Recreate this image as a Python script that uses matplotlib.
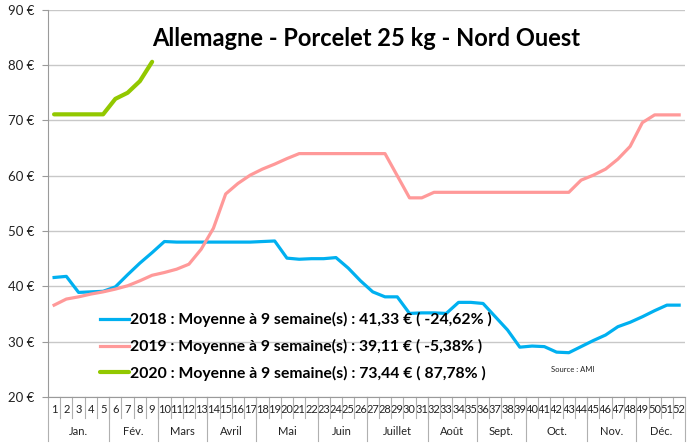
import numpy as np
import matplotlib.pyplot as plt
import matplotlib.transforms as mtransforms

plt.rcParams['font.family'] = ['Lato', 'DejaVu Sans']

weeks = list(range(1, 53))

# prix hebdo (EUR / porcelet 25 kg)
prix_2018 = [41.6, 41.8, 38.9, 39.0, 39.1, 39.9, 42.1, 44.2, 46.1, 48.1,
             48.0, 48.0, 48.0, 48.0, 48.0, 48.0, 48.0, 48.1, 48.2, 45.1,
             44.9, 45.0, 45.0, 45.2, 43.3, 41.0, 39.0, 38.1, 38.1, 35.1,
             35.2, 35.2, 35.1, 37.1, 37.1, 36.9, 34.5, 32.1, 29.0, 29.2,
             29.1, 28.1, 28.0, 29.1, 30.2, 31.2, 32.7, 33.5, 34.5, 35.6,
             36.6, 36.6]
prix_2019 = [36.6, 37.7, 38.1, 38.6, 39.0, 39.5, 40.1, 41.0, 42.0, 42.5,
             43.1, 44.0, 46.7, 50.5, 56.7, 58.6, 60.1, 61.2, 62.1, 63.1,
             64.0, 64.0, 64.0, 64.0, 64.0, 64.0, 64.0, 64.0, 60.0, 56.0,
             56.0, 57.0, 57.0, 57.0, 57.0, 57.0, 57.0, 57.0, 57.0, 57.0,
             57.0, 57.0, 57.0, 59.2, 60.1, 61.2, 63.0, 65.3, 69.6, 71.0,
             71.0, 71.0]
prix_2020 = [71.1, 71.1, 71.1, 71.1, 71.1, 73.9, 75.0, 77.1, 80.6]

labels = ['2018 : Moyenne à 9 semaine(s) : 41,33 € ( -24,62% )',
          '2019 : Moyenne à 9 semaine(s) : 39,11 € ( -5,38% )',
          '2020 : Moyenne à 9 semaine(s) : 73,44 € ( 87,78% )']

mois = ['Jan.', 'Fév.', 'Mars', 'Avril', 'Mai', 'Juin', 'Juillet', 'Août',
        'Sept.', 'Oct.', 'Nov.', 'Déc.']
mois_debut = [1, 6, 10, 14, 18, 23, 27, 32, 36, 40, 45, 49]

fig = plt.figure(figsize=(6.95, 4.46), dpi=100)
ax = fig.add_axes([0.069, 0.11, 0.917, 0.868])

ax.plot(weeks, prix_2018, color='#00b0f0', lw=2.3, label=labels[0])
ax.plot(weeks[:len(prix_2019)], prix_2019, color='#ff9999', lw=2.3, label=labels[1])
ax.plot(weeks[:len(prix_2020)], prix_2020, color='#92c800', lw=3.0, label=labels[2],
        solid_capstyle='round')

ax.set_xlim(0.5, 52.5)
ax.set_ylim(20, 90)
ax.set_yticks(range(20, 91, 10))
ax.set_yticklabels(['%d €' % v for v in range(20, 91, 10)], fontsize=9.5, color='#222222')
ax.yaxis.grid(True, color='#c8c8c8', lw=1)
ax.set_axisbelow(True)
for s in ['top', 'right']:
    ax.spines[s].set_visible(False)
ax.spines['left'].set_color('#9a9a9a')
ax.spines['bottom'].set_color('#9a9a9a')
ax.tick_params(axis='y', length=4, color='#9a9a9a', pad=6)

# axe x : numeros de semaine + mois, facon tableau Excel
ax.set_xticks(weeks)
ax.set_xticklabels([str(w) for w in weeks], fontsize=8, color='#222222')
ax.tick_params(axis='x', length=0, pad=5)

trans = mtransforms.blended_transform_factory(ax.transData, ax.transAxes)
for w in weeks[:-1]:
    ax.plot([w + 0.5, w + 0.5], [0, -0.055], color='#b0b0b0', lw=0.8,
            transform=trans, clip_on=False)
for x0 in [0.5] + [m - 0.5 for m in mois_debut[1:]] + [52.5]:
    ax.plot([x0, x0], [0, -0.115], color='#b0b0b0', lw=0.8,
            transform=trans, clip_on=False)
bornes = mois_debut + [53]
for i, m in enumerate(mois):
    xc = (bornes[i] + bornes[i + 1] - 1) / 2.0
    ax.text(xc, -0.09, m, transform=trans, ha='center', va='center',
            fontsize=8, color='#222222')

ax.set_title('Allemagne - Porcelet 25 kg - Nord Ouest', fontsize=17,
             fontweight='bold', y=0.885)

leg = ax.legend(loc='lower left', bbox_to_anchor=(0.06, 0.005), frameon=False,
                prop={'size': 11.3, 'weight': 'bold'}, handlelength=1.8,
                handletextpad=0.1, labelspacing=0.75)

ax.text(0.824, 0.065, 'Source : AMI', transform=ax.transAxes, fontsize=5.5,
        color='#222222', ha='center')

fig.savefig('out.png', dpi=100)
